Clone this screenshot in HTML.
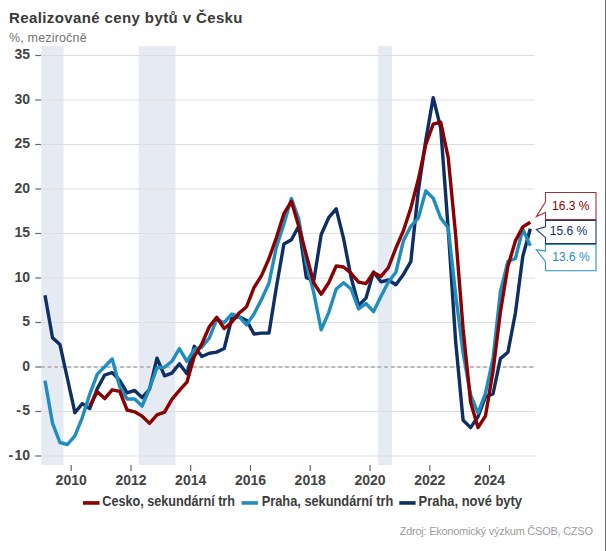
<!DOCTYPE html>
<html><head><meta charset="utf-8">
<style>
html,body{margin:0;padding:0;background:#fff;}
body{width:606px;height:551px;overflow:hidden;position:relative;font-family:"Liberation Sans",sans-serif;}
#rb{position:absolute;left:605px;top:0;width:1px;height:551px;background:#6e6e6e;}
#t{position:absolute;left:9px;top:9px;font-size:15px;font-weight:bold;color:#3a3a3a;white-space:nowrap;letter-spacing:0.39px;line-height:18px;}
#s{position:absolute;left:9px;top:31px;font-size:12.5px;letter-spacing:0.17px;color:#757575;white-space:nowrap;line-height:14px;}
#f{position:absolute;right:13.3px;top:523.5px;font-size:11px;letter-spacing:-0.25px;color:#9c9c9c;white-space:nowrap;line-height:14px;}
svg{position:absolute;left:0;top:0;}
.ax{font-family:"Liberation Sans",sans-serif;font-size:14px;font-weight:bold;fill:#444;}
.axx{letter-spacing:0px;}
.lg{font-family:"Liberation Sans",sans-serif;font-size:14px;font-weight:bold;fill:#3c3c3c;}
.cl{font-family:"Liberation Sans",sans-serif;font-size:12px;}
</style></head><body>
<div id="t">Realizované ceny bytů v Česku</div>
<div id="s">%, meziročně</div>
<svg width="606" height="551" viewBox="0 0 606 551">
<rect x="41.4" y="46" width="22.1" height="419" fill="#e6eaf2"/>
<rect x="138.6" y="46" width="36.9" height="419" fill="#e6eaf2"/>
<rect x="377.9" y="46" width="14.2" height="419" fill="#e6eaf2"/>
<line x1="41" y1="456.0" x2="535" y2="456.0" stroke="#dddddd" stroke-width="1.1"/>
<line x1="35.3" y1="456.0" x2="41" y2="456.0" stroke="#666" stroke-width="1.2"/>
<line x1="41" y1="411.5" x2="535" y2="411.5" stroke="#dddddd" stroke-width="1.1"/>
<line x1="35.3" y1="411.5" x2="41" y2="411.5" stroke="#666" stroke-width="1.2"/>
<line x1="35.3" y1="367.0" x2="41" y2="367.0" stroke="#666" stroke-width="1.2"/>
<line x1="41" y1="322.5" x2="535" y2="322.5" stroke="#dddddd" stroke-width="1.1"/>
<line x1="35.3" y1="322.5" x2="41" y2="322.5" stroke="#666" stroke-width="1.2"/>
<line x1="41" y1="278.0" x2="535" y2="278.0" stroke="#dddddd" stroke-width="1.1"/>
<line x1="35.3" y1="278.0" x2="41" y2="278.0" stroke="#666" stroke-width="1.2"/>
<line x1="41" y1="233.5" x2="535" y2="233.5" stroke="#dddddd" stroke-width="1.1"/>
<line x1="35.3" y1="233.5" x2="41" y2="233.5" stroke="#666" stroke-width="1.2"/>
<line x1="41" y1="189.0" x2="535" y2="189.0" stroke="#dddddd" stroke-width="1.1"/>
<line x1="35.3" y1="189.0" x2="41" y2="189.0" stroke="#666" stroke-width="1.2"/>
<line x1="41" y1="144.5" x2="535" y2="144.5" stroke="#dddddd" stroke-width="1.1"/>
<line x1="35.3" y1="144.5" x2="41" y2="144.5" stroke="#666" stroke-width="1.2"/>
<line x1="41" y1="100.0" x2="535" y2="100.0" stroke="#dddddd" stroke-width="1.1"/>
<line x1="35.3" y1="100.0" x2="41" y2="100.0" stroke="#666" stroke-width="1.2"/>
<line x1="41" y1="55.5" x2="535" y2="55.5" stroke="#dddddd" stroke-width="1.1"/>
<line x1="35.3" y1="55.5" x2="41" y2="55.5" stroke="#666" stroke-width="1.2"/>
<line x1="71.2" y1="465" x2="71.2" y2="471" stroke="#666" stroke-width="1.2"/>
<line x1="131.0" y1="465" x2="131.0" y2="471" stroke="#666" stroke-width="1.2"/>
<line x1="190.7" y1="465" x2="190.7" y2="471" stroke="#666" stroke-width="1.2"/>
<line x1="250.5" y1="465" x2="250.5" y2="471" stroke="#666" stroke-width="1.2"/>
<line x1="310.2" y1="465" x2="310.2" y2="471" stroke="#666" stroke-width="1.2"/>
<line x1="370.0" y1="465" x2="370.0" y2="471" stroke="#666" stroke-width="1.2"/>
<line x1="429.8" y1="465" x2="429.8" y2="471" stroke="#666" stroke-width="1.2"/>
<line x1="489.5" y1="465" x2="489.5" y2="471" stroke="#666" stroke-width="1.2"/>

<line x1="41" y1="367.0" x2="535" y2="367.0" stroke="#e9e9e9" stroke-width="1.4"/>
<line x1="41" y1="367.0" x2="535" y2="367.0" stroke="#a8a8a8" stroke-width="1.6" stroke-dasharray="3.7 2.9"/>
<text x="30.0" y="460" text-anchor="end" class="ax">-<tspan dx="1.3">10</tspan></text>
<text x="30.0" y="415" text-anchor="end" class="ax">-<tspan dx="1.3">5</tspan></text>
<text x="30.0" y="371" text-anchor="end" class="ax">0</text>
<text x="30.0" y="326" text-anchor="end" class="ax">5</text>
<text x="30.0" y="282" text-anchor="end" class="ax">10</text>
<text x="30.0" y="237" text-anchor="end" class="ax">15</text>
<text x="30.0" y="193" text-anchor="end" class="ax">20</text>
<text x="30.0" y="148" text-anchor="end" class="ax">25</text>
<text x="30.0" y="104" text-anchor="end" class="ax">30</text>
<text x="30.0" y="59" text-anchor="end" class="ax">35</text>
<text x="71.2" y="485.0" text-anchor="middle" class="ax axx">2010</text>
<text x="131.0" y="485.0" text-anchor="middle" class="ax axx">2012</text>
<text x="190.7" y="485.0" text-anchor="middle" class="ax axx">2014</text>
<text x="250.5" y="485.0" text-anchor="middle" class="ax axx">2016</text>
<text x="310.2" y="485.0" text-anchor="middle" class="ax axx">2018</text>
<text x="370.0" y="485.0" text-anchor="middle" class="ax axx">2020</text>
<text x="429.8" y="485.0" text-anchor="middle" class="ax axx">2022</text>
<text x="489.5" y="485.0" text-anchor="middle" class="ax axx">2024</text>

<g fill="none" stroke-width="3.4" stroke-linejoin="round" stroke-linecap="butt">
<polyline stroke="#0e2f63" points="45.0,295.2 52.5,337.7 59.9,344.4 67.4,378.5 74.9,412.7 82.3,403.6 89.8,408.5 97.3,388.6 104.7,375.0 112.2,372.6 119.7,380.4 127.1,392.8 134.6,390.4 142.1,397.6 149.5,389.4 157.0,358.2 164.5,375.8 171.9,373.1 179.4,363.7 186.9,373.7 194.3,346.3 201.8,356.5 209.3,353.2 216.7,352.1 224.2,348.5 231.7,318.5 239.1,316.7 246.6,320.4 254.0,334.0 261.5,333.1 269.0,333.1 276.4,287.0 283.9,244.0 291.4,239.8 298.8,226.0 306.3,277.6 313.8,280.6 321.2,234.5 328.7,217.7 336.2,208.9 343.6,238.6 351.1,277.5 358.6,305.4 366.0,298.1 373.5,272.0 381.0,281.8 388.4,280.0 395.9,284.8 403.4,274.4 410.8,261.7 418.3,191.0 425.8,140.0 433.2,97.6 440.7,128.0 448.2,229.0 455.6,341.0 463.1,420.3 470.6,427.6 478.0,416.7 485.5,396.7 493.0,394.0 500.4,358.6 507.9,352.2 515.4,313.0 522.8,256.3 530.3,228.7"/>
<polyline stroke="#1f8dbd" points="45.0,380.6 52.5,423.1 59.9,442.5 67.4,444.5 74.9,435.8 82.3,417.6 89.8,394.0 97.3,374.1 104.7,366.8 112.2,359.0 119.7,386.8 127.1,399.0 134.6,399.0 142.1,406.1 149.5,388.5 157.0,367.7 164.5,367.3 171.9,361.3 179.4,348.6 186.9,361.3 194.3,349.5 201.8,347.3 209.3,338.0 216.7,319.4 224.2,322.7 231.7,314.0 239.1,316.7 246.6,324.9 254.0,314.0 261.5,299.5 269.0,283.1 276.4,247.0 283.9,224.0 291.4,198.5 298.8,219.0 306.3,263.0 313.8,292.8 321.2,329.9 328.7,312.6 336.2,289.0 343.6,282.7 351.1,289.0 358.6,309.0 366.0,303.5 373.5,311.7 381.0,296.3 388.4,282.0 395.9,272.2 403.4,240.8 410.8,226.3 418.3,218.1 425.8,190.9 433.2,198.2 440.7,218.1 448.2,227.6 455.6,294.4 463.1,353.0 470.6,394.9 478.0,413.0 485.5,393.1 493.0,358.6 500.4,291.7 507.9,261.4 515.4,258.5 522.8,229.1 530.3,245.8"/>
<polyline stroke="#8b0000" points="89.8,405.8 97.3,391.8 104.7,398.6 112.2,389.8 119.7,391.3 127.1,410.0 134.6,411.8 142.1,416.1 149.5,423.4 157.0,414.9 164.5,412.1 171.9,399.4 179.4,390.4 186.9,382.2 194.3,356.3 201.8,344.0 209.3,326.7 216.7,317.3 224.2,328.5 231.7,322.2 239.1,313.1 246.6,306.7 254.0,287.7 261.5,275.6 269.0,258.5 276.4,237.6 283.9,213.7 291.4,201.3 298.8,226.5 306.3,255.0 313.8,283.0 321.2,294.2 328.7,282.8 336.2,266.0 343.6,267.0 351.1,273.3 358.6,282.2 366.0,283.6 373.5,272.4 381.0,276.4 388.4,267.5 395.9,248.0 403.4,230.8 410.8,208.1 418.3,179.5 425.8,144.5 433.2,124.2 440.7,122.2 448.2,157.6 455.6,234.4 463.1,329.0 470.6,402.2 478.0,427.6 485.5,415.8 493.0,371.3 500.4,312.0 507.9,266.3 515.4,240.9 522.8,226.9 530.3,222.2"/>
</g>
<!-- callouts -->
<g fill="#fff" stroke-width="1.1">
<path d="M545.5 192.5 H596 V219.5 H545.5 V212.3 L536.3 216.6 L545.5 201.8 Z" stroke="#a3333a"/>
<path d="M545.5 220.5 H596 V243.5 H545.5 V237.7 L536.3 229.5 L545.5 226.8 Z" stroke="#1d3a6b"/>
<path d="M545.5 244.5 H596 V270.7 H545.5 V261.7 L536.3 249.8 L545.5 251 Z" stroke="#2a93c2"/>
</g>
<text x="570.8" y="210.2" text-anchor="middle" class="cl" fill="#8b0000">16.3 %</text>
<text x="568.4" y="235.2" text-anchor="middle" class="cl" fill="#0e2f63">15.6 %</text>
<text x="570.9" y="260.6" text-anchor="middle" class="cl" fill="#1f8dbd">13.6 %</text>
<!-- legend -->
<line x1="82.9" y1="502.95" x2="99.5" y2="502.95" stroke="#8b0000" stroke-width="3.6"/>
<text x="102.3" y="505.7" class="lg" textLength="132.7" lengthAdjust="spacingAndGlyphs">Cesko, sekundární trh</text>
<line x1="241.5" y1="502.95" x2="257.9" y2="502.95" stroke="#1f8dbd" stroke-width="3.6"/>
<text x="261.7" y="505.7" class="lg" textLength="131.6" lengthAdjust="spacingAndGlyphs">Praha, sekundární trh</text>
<line x1="399.3" y1="502.95" x2="415.6" y2="502.95" stroke="#0e2f63" stroke-width="3.6"/>
<text x="418.6" y="505.7" class="lg" textLength="103.4" lengthAdjust="spacingAndGlyphs">Praha, nové byty</text>
</svg>
<div id="f">Zdroj: Ekonomický výzkum ČSOB, CZSO</div>
<div id="rb"></div>
</body></html>
